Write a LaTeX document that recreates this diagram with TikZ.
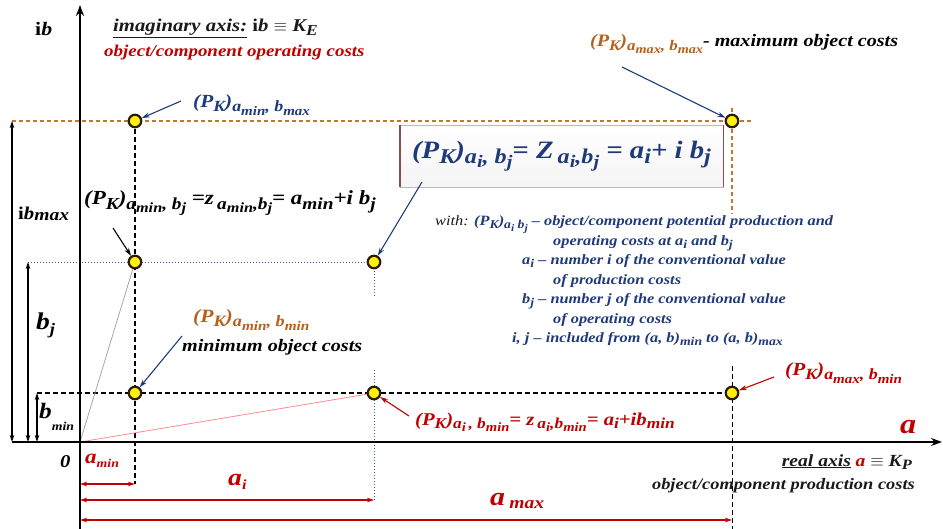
\documentclass[tikz,border=0pt]{standalone}
\usepackage{fontspec}
\setmainfont{Liberation Serif}[FakeStretch=1.15]
\usetikzlibrary{arrows.meta}
\definecolor{navy}{HTML}{1F3A7A}
\definecolor{dred}{HTML}{C00000}
\definecolor{brn}{HTML}{B5601C}
\definecolor{brline}{HTML}{C07830}
\definecolor{bluel}{HTML}{3A5AA8}
\definecolor{dotring}{HTML}{2A1A08}
\definecolor{dotfill}{HTML}{FFF200}
\definecolor{boxside}{HTML}{8C4A52}
\definecolor{txtk}{HTML}{1A1A1A}
\newcommand{\sbx}[1]{\raisebox{-0.45ex}{\scalebox{0.84}{#1}}}
\newcommand{\fs}[1]{\fontsize{#1}{#1}\selectfont}
\begin{document}
\begin{tikzpicture}[x=1pt,y=-1pt,
  every node/.style={inner sep=0pt, font=\bfseries\itshape},
  dot/.style={circle, draw=dotring, line width=2.2pt, fill=dotfill, minimum size=12.5pt},
  tx/.style={anchor=base west},
  arr/.style={-{Stealth[length=8pt,width=5pt]}, line width=1.1pt},
  dim/.style={{Stealth[length=7pt,width=4.5pt]}-{Stealth[length=7pt,width=4.5pt]}, line width=1.2pt},
  rdim/.style={dim, draw=dred},
  bdash/.style={draw=brline, dash pattern=on 4pt off 3pt, line width=1.1pt},
  kdash/.style={draw=black, dash pattern=on 5pt off 3pt, line width=1.2pt},
  bldot/.style={draw=bluel, dash pattern=on 1.2pt off 1.8pt, line width=0.9pt},
  axis/.style={line width=1.6pt, -{Stealth[length=11pt,width=8pt]}}
]
\useasboundingbox (0,0) rectangle (943,529);

% axes
\coordinate (O) at (80,442);
\coordinate (Ytop) at (80,5);
\coordinate (Ybot) at (80,529);
\coordinate (Xl) at (12,442);
\coordinate (Xr) at (942,442);

% grid coordinates
\coordinate (hbl) at (12,121);   \coordinate (hbr) at (752,121);
\coordinate (hjl) at (28,262);   \coordinate (hjr) at (374,262);
\coordinate (hml) at (37,393);   \coordinate (hmr) at (732,393);
\coordinate (vat) at (135,121);  \coordinate (vab) at (135,484);
\coordinate (vit1) at (374,262); \coordinate (vib1) at (374,296);
\coordinate (vit2) at (374,370); \coordinate (vib2) at (374,500);
\coordinate (vmt1) at (732,108); \coordinate (vmb1) at (732,214);
\coordinate (vmt2) at (732,366); \coordinate (vmb2) at (732,529);

% left dimension ends
\coordinate (d1t) at (12,121); \coordinate (d1b) at (12,442);
\coordinate (d2t) at (28,262); \coordinate (d2b) at (28,442);
\coordinate (d3t) at (37,393); \coordinate (d3b) at (37,442);
% bottom dimension ends
\coordinate (e1l) at (80,484); \coordinate (e1r) at (135,484);
\coordinate (e2l) at (80,500); \coordinate (e2r) at (374,500);
\coordinate (e3l) at (80,520); \coordinate (e3r) at (732,520);

% guide lines
\draw[bdash] (hbl) -- (hbr);
\draw[bdash] (vmt1) -- (vmb1);
\draw[bldot] (hjl) -- (hjr);
\draw[kdash] (hml) -- (hmr);
\draw[kdash] (vat) -- (vab);
\draw[bldot] (vit1) -- (vib1);
\draw[bldot] (vit2) -- (vib2);
\draw[kdash, line width=0.9pt] (vmt2) -- (vmb2);

% slanted lines
\draw[gray!70, line width=0.8pt] (O) -- (135,262);
\draw[red!45, line width=0.8pt] (O) -- (374,393);

% axes
\draw[axis] (Ybot) -- (Ytop);
\draw[axis] (Xl) -- (Xr);

% dimension lines
\draw[dim] (d1t) -- (d1b);
\draw[dim] (d2t) -- (d2b);
\draw[dim] (d3t) -- (d3b);
\draw[rdim] (e1l) -- (e1r);
\draw[rdim] (e2l) -- (e2r);
\draw[rdim, line width=2pt] (e3l) -- (e3r);

% box
\node[draw=gray!55, line width=0.8pt, top color=white, bottom color=red!6!gray!8,
      minimum width=323pt, minimum height=62pt, text=navy, font=\bfseries\itshape\fs{25}]
      (box) at (561.5,156) {(P\sbx{K})\sbx{a\sbx{i}, b\sbx{j}}= Z\,\sbx{a\sbx{i},b\sbx{j}} = a\sbx{i}+ i b\sbx{j}};
\draw[boxside, line width=1.8pt] (box.north west) -- (box.south west);
\draw[boxside, line width=1.8pt] (box.north east) -- (box.south east);

% dots
\node[dot] (pminmax) at (135,121) {};
\node[dot] (pmaxmax) at (732,121) {};
\node[dot] (pminj) at (135,262) {};
\node[dot] (pij) at (374,262) {};
\node[dot] (pminmin) at (135,393) {};
\node[dot] (pimin) at (374,393) {};
\node[dot] (pmaxmin) at (732,393) {};

% axis labels
\node[tx] (lib) at (35,36) {\fs{19}{\upshape i}b};
\node[tx, text=txtk] (limag) at (113,32) {\fs{18}\underline{imaginary axis:} {\upshape i}b $\equiv$ K\sbx{E}};
\node[tx, text=dred] (lop) at (104,57) {\fs{16.5}object/component operating costs};

\node[tx] (lzero) at (60,467) {\fs{18}0};
\node[tx, text=dred] (lamin) at (85,463) {\fs{20}a\raisebox{-0.5ex}{\fs{12}min}};
\node[tx, text=dred] (lai) at (228,485) {\fs{24}a\raisebox{-0.4ex}{\fs{14}i}};
\node[tx, text=dred] (lamax) at (490,505) {\fs{26}a\,\raisebox{-0.3ex}{\fs{17}max}};
\node[tx, text=dred] (la) at (900,433) {\fs{28}a};
\node[anchor=base east, text=txtk] (lreal) at (912,466) {\fs{17}\underline{real axis} \textcolor{dred}{a} $\equiv$ K\sbx{P}};
\node[anchor=base east, text=txtk] (lprod) at (915,489) {\fs{16}object/component production costs};

\node[tx] (libmax) at (18,220) {\fs{18}{\upshape i}b\raisebox{-0.1ex}{\fs{17}max}};
\node[tx] (lbj) at (36,330) {\fs{24}b\raisebox{-0.4ex}{\fs{16}j}};
\node[tx] (lbmin) at (39,418) {\fs{22}b\raisebox{-1.2ex}{\fs{12}min}};

% point labels
\node[tx, text=navy] (lminmax) at (193,108) {\fs{18.5}(P\sbx{K})\sbx{a\sbx{min}, b\sbx{max}}};
\node[tx] (lmaxmax) at (590,47) {\fs{17.5}\textcolor{brn}{(P\sbx{K})\sbx{a\sbx{max}, b\sbx{max}}}- maximum object costs};
\node[tx] (lminj) at (84,205) {\fs{20}(P\sbx{K})\sbx{a\sbx{min}, b\sbx{j}} =z\,\sbx{a\sbx{min},b\sbx{j}}= a\sbx{min}+i b\sbx{j}};
\node[tx, text=brn] (lminmin) at (193,323) {\fs{18.8}(P\sbx{K})\sbx{a\sbx{min}, b\sbx{min}}};
\node[tx] (lmincost) at (182,352) {\fs{17.5}minimum object costs};
\node[tx, text=dred] (limin) at (415,425) {\fs{18}(P\sbx{K})\sbx{a\sbx{i}\,, b\sbx{min}}= z\,\sbx{a\sbx{i},b\sbx{min}}= a\sbx{i}+ib\sbx{min}};
\node[tx, text=dred] (lmaxmin) at (785,376) {\fs{18.5}(P\sbx{K})\sbx{a\sbx{max}, b\sbx{min}}};

% legend
\begin{scope}[every node/.style={anchor=base west, inner sep=0pt, text=navy, font=\bfseries\itshape\fs{14.2}}]
\node (g1) at (435,226) {{\mdseries\color{txtk}with:} (P\sbx{K})\sbx{a\sbx{i} b\sbx{j}} -- object/component potential production and};
\node (g2) at (553,245.5) {operating costs at a\sbx{i} and b\sbx{j}};
\node (g3) at (522,265) {a\sbx{i} -- number i of the conventional value};
\node (g4) at (553,284.5) {of production costs};
\node (g5) at (522,304) {b\sbx{j} -- number j of the conventional value};
\node (g6) at (553,323.5) {of operating costs};
\node (g7) at (512,343) {i, j -- included from (a, b)\sbx{min} to (a, b)\sbx{max}};
\end{scope}

% arrow starts
\coordinate (s1) at (181,101);
\coordinate (s2) at (622,67);
\coordinate (s3) at (113,228);
\coordinate (s4) at (422,182);
\coordinate (s5) at (182,336);
\coordinate (s6) at (409,416);
\coordinate (s7) at (774,377);

% pointer arrows
\draw[arr, navy] (s1) -- (pminmax);
\draw[arr, navy] (s2) -- (pmaxmax);
\draw[arr, black] (s3) -- (pminj);
\draw[arr, navy] (s4) -- (pij);
\draw[arr, navy] (s5) -- (pminmin);
\draw[arr, dred] (s6) -- (pimin);
\draw[arr, dred] (s7) -- (pmaxmin);
\end{tikzpicture}
\end{document}
